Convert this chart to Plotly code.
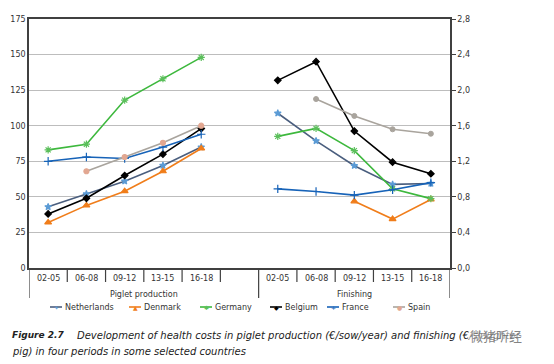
import plotly.graph_objects as go

periods = ["02-05", "06-08", "09-12", "13-15", "16-18"]
groups = ["Piglet production", "Finishing"]
countries = ["Netherlands", "Denmark", "Germany", "Belgium", "France", "Spain"]

# Piglet production, €/sow/year (left axis)
piglet_nl = [43, 52, 61, 72, 85]
piglet_dk = [32, 44, 54, 68, 84]
piglet_de = [83, 87, 118, 133, 148]
piglet_be = [38, 49, 65, 80, 98]
piglet_fr = [75, 78, 77, 85, 94]
piglet_es = [None, 68, 78, 88, 100]

# Finishing, €/pig (right axis)
finish_nl = [1.74, 1.43, 1.15, 0.94, 0.95]
finish_dk = [None, None, 0.75, 0.55, 0.77]
finish_de = [1.48, 1.57, 1.32, 0.89, 0.78]
finish_be = [2.11, 2.32, 1.54, 1.19, 1.06]
finish_fr = [0.89, 0.86, 0.82, 0.88, 0.96]
finish_es = [None, 1.90, 1.71, 1.56, 1.51]

left_ticks = [0, 25, 50, 75, 100, 125, 150, 175]
right_ticks = [0.0, 0.4, 0.8, 1.2, 1.6, 2.0, 2.4, 2.8]
right_labels = ["0,0", "0,4", "0,8", "1,2", "1,6", "2,0", "2,4", "2,8"]

piglet = [piglet_nl, piglet_dk, piglet_de, piglet_be, piglet_fr, piglet_es]
finish = [finish_nl, finish_dk, finish_de, finish_be, finish_fr, finish_es]

styles = {
    "Netherlands": dict(line="#4A5E7E", mc="#5B9BD5", sym="star", ms=5, glyph="✦"),
    "Denmark": dict(line="#F07D1A", mc="#F07D1A", sym="triangle-up", ms=6, glyph="▲"),
    "Germany": dict(line="#3DB83D", mc="#5BBF5B", sym="asterisk-open", ms=6, glyph="✱"),
    "Belgium": dict(line="#000000", mc="#000000", sym="diamond", ms=5, glyph="◆"),
    "France": dict(line="#1763B8", mc="#1763B8", sym="cross-thin-open", ms=6, glyph="+"),
    "Spain": dict(line="#A9A49D", mc="#E2A791", sym="circle", ms=5, glyph="●"),
}

# layout helpers (pixel positions of the plot area and of the legend entries)
W, H = 554, 364
PX_L, PX_R, PX_T, PX_B = 29, 450, 19, 268
legend_sym_px = [50, 129, 200, 270, 327, 393]
LEG_Y_PX = 307


def px_x(px):
    return (px - PX_L) / (PX_R - PX_L)


def px_y(py):
    return (PX_B - py) / (PX_B - PX_T)


n = len(periods)
x_piglet = list(range(n))
x_finish = [i + n + 1 for i in range(n)]

fig = go.Figure()
FONT = "DejaVu Sans"

for name, yp, yf in zip(countries, piglet, finish):
    st = styles[name]
    mk = dict(symbol=st["sym"], size=st["ms"], color=st["mc"],
              line=dict(color=st["mc"], width=1.2))
    fig.add_trace(go.Scatter(
        x=x_piglet, y=yp, mode="lines+markers", name=name,
        line=dict(color=st["line"], width=1.6), marker=mk, yaxis="y",
        connectgaps=False))
    mk2 = dict(mk)
    if name == "Spain":
        mk2 = dict(symbol="circle", size=5, color="#A9A49D",
                   line=dict(color="#A9A49D", width=1))
    fig.add_trace(go.Scatter(
        x=x_finish, y=yf, mode="lines+markers", name=name,
        line=dict(color=st["line"], width=1.6), marker=mk2, yaxis="y2",
        connectgaps=False))

axis_col = "#404040"
fig.update_layout(
    width=W, height=H,
    margin=dict(l=PX_L, r=W - PX_R, t=PX_T, b=H - PX_B),
    paper_bgcolor="white", plot_bgcolor="white",
    font=dict(family=FONT, size=8, color="#333333"),
    showlegend=False,
    xaxis=dict(range=[-0.5, 2 * n + 0.5], showticklabels=False, ticks="",
               showgrid=False, zeroline=False, showline=True, mirror=True,
               linecolor=axis_col, linewidth=1.5, automargin=False),
    yaxis=dict(range=[0, 175], tickvals=left_ticks, showgrid=True,
               gridcolor="#BDBDBD", gridwidth=1.3, zeroline=False,
               showline=True, linecolor=axis_col, linewidth=1.5,
               ticks="", automargin=False,
               tickfont=dict(size=8, color="#333333")),
    yaxis2=dict(range=[0, 2.8], tickvals=right_ticks, ticktext=right_labels,
                overlaying="y", side="right", showgrid=False, zeroline=False,
                showline=True, linecolor=axis_col, linewidth=1.5,
                ticks="outside", ticklen=4, tickcolor=axis_col,
                automargin=False, tickfont=dict(size=8, color="#333333")),
)

shapes = []
ann = []
# category labels and separators
for xs in (x_piglet, x_finish):
    for xi, p in zip(xs, periods):
        ann.append(dict(x=xi, y=px_y(278), xref="x", yref="paper", text=p,
                        showarrow=False, font=dict(size=8, color="#333333"),
                        xanchor="center", yanchor="middle"))
for b in range(1, 2 * n + 1):
    xb = b - 0.5
    long = xb == n + 0.5
    shapes.append(dict(type="line", xref="x", yref="paper", x0=xb, x1=xb,
                       y0=0, y1=px_y(298) if long else px_y(282),
                       line=dict(color=axis_col, width=1.2)))
for xb in (-0.5, 2 * n + 0.5):
    shapes.append(dict(type="line", xref="x", yref="paper", x0=xb, x1=xb,
                       y0=0, y1=px_y(298), line=dict(color=axis_col, width=1.2)))
ann.append(dict(x=(-0.5 + n + 0.5) / 2, y=px_y(294), xref="x", yref="paper",
                text=groups[0], showarrow=False, yanchor="middle",
                font=dict(size=8, color="#333333")))
ann.append(dict(x=(n + 0.5 + 2 * n + 0.5) / 2, y=px_y(294), xref="x", yref="paper",
                text=groups[1], showarrow=False, yanchor="middle",
                font=dict(size=8, color="#333333")))

# legend (drawn manually to match compact spacing)
for name, sx in zip(countries, legend_sym_px):
    st = styles[name]
    shapes.append(dict(type="line", xref="paper", yref="paper",
                       x0=px_x(sx), x1=px_x(sx + 12), y0=px_y(LEG_Y_PX),
                       y1=px_y(LEG_Y_PX), line=dict(color=st["line"], width=1.6)))
    ann.append(dict(x=px_x(sx + 6), y=px_y(LEG_Y_PX), xref="paper", yref="paper",
                    text=st["glyph"], showarrow=False, xanchor="center",
                    yanchor="middle",
                    font=dict(size=6, color=st["mc"], family=FONT)))
    ann.append(dict(x=px_x(sx + 13), y=px_y(LEG_Y_PX), xref="paper", yref="paper",
                    text=name, showarrow=False, xanchor="left", yanchor="middle",
                    font=dict(size=8, color="#333333")))

# caption
cap_font = dict(family=FONT, size=10, color="#222222")
ann.append(dict(x=px_x(10), y=px_y(335), xref="paper", yref="paper",
                text="<b><i>Figure 2.7</i></b>", showarrow=False,
                xanchor="left", yanchor="middle",
                font=dict(family=FONT, size=9, color="#222222")))
ann.append(dict(x=px_x(75), y=px_y(335), xref="paper", yref="paper",
                text="<i>Development of health costs in piglet production (€/sow/year) and finishing (€/slaughter</i>",
                showarrow=False, xanchor="left", yanchor="middle", font=cap_font))
ann.append(dict(x=px_x(10), y=px_y(351), xref="paper", yref="paper",
                text="<i>pig) in four periods in some selected countries</i>",
                showarrow=False, xanchor="left", yanchor="middle", font=cap_font))
# watermark
ann.append(dict(x=px_x(496), y=px_y(335), xref="paper", yref="paper",
                text="微猪听经", showarrow=False, xanchor="center",
                yanchor="middle", bgcolor="rgba(255,255,255,0.55)",
                font=dict(family="Noto Sans CJK SC", size=13,
                          color="rgba(110,110,110,0.85)")))

fig.update_layout(shapes=shapes, annotations=ann)
fig.write_html(
    "out.html",
    config={"displayModeBar": False},
    post_script="document.body.style.margin='0';document.body.style.padding='0';",
)
